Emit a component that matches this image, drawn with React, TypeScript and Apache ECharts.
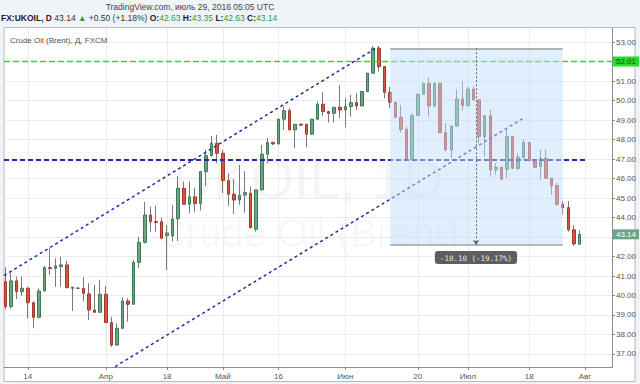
import React, { useEffect, useRef } from "react";
import * as echarts from "echarts";

// trading-day index of the first candle (0 = 14 March 2016)
const firstDay = -4;
const opens = [
  40.71, 39.43, 40.75, 40.2, 40.37, 39.63, 38.88, 40.23, 41.43, 41.4, 41.48, 41.57, 40.42, 40.37,
  40.37, 40.08, 39.26, 39.14, 40.06, 38.61, 37.46, 38.32, 39.72, 39.55, 41.7, 42.73, 44.13, 43.79,
  43.79, 43.07, 43.06, 43.93, 45.5, 44.68, 45.06, 44.72, 46.36, 47.18, 47.81, 47.3, 45.9, 45.2,
  44.9, 45.16, 45.25, 43.4, 45.42, 47.25, 47.86, 47.78, 49.05, 49.49, 48.5, 48.79, 48.79, 48.28,
  49.05, 49.82, 49.44, 49.35, 49.66, 49.52, 49.7, 49.9, 49.73, 50.47, 51.41, 52.69, 51.75, 50.43,
  49.92, 49.15, 48.53, 46.96, 49.23, 50.33, 50.89, 49.73, 50.89, 48.36, 47.47, 48.7, 50.09, 49.75,
  50.59, 50.04, 48.16, 49.22, 46.44, 46.58, 46.48, 48.16, 46.53, 47.1, 47.85, 46.92, 46.62, 47.04,
  46.02, 45.64, 44.68, 44.51, 43.37, 42.63,
];
const closes = [
  39.43, 40.75, 40.2, 40.37, 39.63, 38.88, 40.23, 41.43, 41.38, 41.52, 41.57, 40.4, 40.37, 40.38,
  40.11, 39.26, 39.14, 40.06, 38.61, 37.46, 38.32, 39.72, 39.55, 41.7, 42.73, 44.13, 43.79, 43.75,
  42.94, 43.21, 43.93, 45.5, 44.68, 45.06, 44.72, 46.36, 47.18, 47.81, 47.3, 45.9, 45.2, 44.9,
  45.14, 45.28, 43.48, 45.42, 47.25, 47.86, 47.78, 49.05, 49.49, 48.5, 48.79, 48.74, 48.28, 49.05,
  49.82, 49.44, 49.35, 49.66, 49.52, 49.7, 49.9, 49.73, 50.47, 51.41, 52.69, 51.75, 50.43, 49.92,
  49.15, 48.53, 46.96, 49.23, 50.33, 50.89, 49.73, 50.89, 48.36, 47.47, 48.7, 50.09, 49.75, 50.59,
  50.04, 48.16, 49.22, 46.44, 46.58, 45.97, 48.16, 46.53, 47.1, 47.85, 46.92, 46.58, 47.04, 46.02,
  45.64, 44.68, 44.51, 43.37, 42.65, 43.14,
];
const lows = [
  39.29, 39.34, 39.81, 39.98, 38.83, 38.32, 38.83, 40.23, 41.05, 40.45, 40.45, 40.4, 39.21, 40.33,
  39.69, 38.74, 39.12, 39.14, 38.61, 37.37, 37.41, 38.27, 38.66, 39.55, 41.4, 42.68, 43.28, 43.28,
  42.94, 41.31, 42.77, 42.8, 44.68, 44.22, 44.26, 44.36, 45.62, 47.13, 46.79, 45.25, 44.6, 44.19,
  44.65, 44.25, 43.45, 43.28, 45.42, 46.79, 47.72, 47.76, 48.5, 48.5, 47.56, 48.7, 47.61, 48.24,
  49.01, 49.22, 48.87, 48.87, 49.1, 48.63, 49.18, 49.52, 49.7, 50.47, 51.41, 51.49, 50.12, 49.61,
  49.15, 48.36, 46.96, 46.96, 49.23, 50.3, 49.18, 49.7, 48.36, 47.4, 47.04, 48.67, 49.49, 49.7,
  50.04, 47.81, 47.13, 46.1, 46.19, 45.93, 46.02, 46.53, 46.44, 46.99, 46.92, 46.58, 45.93, 46.02,
  45.16, 44.61, 44.14, 43.28, 42.54, 42.63,
];
const highs = [
  41.45, 41.14, 40.97, 40.97, 40.45, 39.69, 40.37, 41.52, 42.42, 41.91, 41.99, 41.77, 40.45, 40.42,
  40.93, 40.63, 40.54, 40.8, 40.49, 38.91, 38.57, 39.91, 39.86, 41.82, 43.02, 44.8, 44.56, 44.6,
  44.01, 43.62, 44.65, 46.14, 45.85, 45.85, 45.54, 46.36, 47.47, 48.19, 48.24, 47.47, 46.27, 45.97,
  46.7, 46.38, 45.6, 45.42, 47.73, 48.1, 47.9, 49.05, 49.7, 49.61, 48.79, 48.82, 48.79, 49.05,
  49.95, 50.43, 49.49, 49.66, 50.81, 50.12, 50.3, 50.38, 50.47, 51.41, 52.8, 52.8, 51.75, 50.72,
  49.92, 49.78, 48.67, 49.35, 50.33, 50.93, 51.2, 50.93, 50.93, 48.84, 48.7, 50.59, 50.98, 50.72,
  50.72, 50.07, 49.27, 49.53, 46.79, 46.62, 48.58, 48.16, 47.3, 48.02, 47.85, 46.92, 47.47, 47.5,
  46.02, 45.76, 44.85, 44.85, 43.62, 43.35,
];

const tickDays = [0, 14, 25, 35, 45, 57, 70, 79, 90, 100];
const tickLabels = ["14", "Апр", "18", "Май", "16", "Июн", "20", "Июл", "18", "Авг"];
const priceTicks = [37, 38, 39, 40, 41, 42, 43, 44, 45, 46, 47, 48, 49, 50, 51, 52, 53];
// 43.00 and 52.00 are covered by the price badges in the reference
const priceLabels = [37, 38, 39, 40, 41, 42, 44, 45, 46, 47, 48, 49, 50, 51, 53];

// user drawings (trading-day index, price)
const upperChannel = [[-4.27, 41.02], [62.85, 52.76]];
const lowerChannel = [[12, 35.71], [89.05, 49.12]];
const supportLevel = 46.97;
const supportSpan = [-4.27, 100.5];
const resistanceLevel = 52.01;
const measureFrom = 65.05;
const measureTo = 96.0;
const measureMid = 80.44;
const measureTop = 52.69;
const measureBottom = 42.59;
const measureText = "-10.10 (-19.17%)";
const lastPrice = 43.14;

const xMin = -4.27;
const xMax = 104.85;
const yMin = 36.33;
const yMax = 53.73;

const FONT = "'Liberation Sans', Arial, sans-serif";

export default function App() {
  const ref = useRef<HTMLDivElement>(null);
  useEffect(() => {
    if (!ref.current) return;
    const chart = echarts.init(ref.current, undefined, { renderer: "svg" });
    const candles = opens.map((o, i) => [firstDay + i, o, closes[i], lows[i], highs[i]]);
    const bodies = opens.map((o, i) => [
      firstDay + i,
      o,
      closes[i],
      Math.min(o, closes[i]),
      Math.max(o, closes[i]),
    ]);
    const wick = "#77797d";
    const option: any = {
      animation: false,
      backgroundColor: "#f0f3f8",
      textStyle: { fontFamily: FONT },
      grid: { left: 4, right: 28, top: 28, bottom: 17, containLabel: false },
      xAxis: {
        type: "value",
        min: xMin,
        max: xMax,
        axisLine: { show: true, onZero: false, lineStyle: { color: "#8c8c8c" } },
        axisTick: { show: true, customValues: tickDays, length: 3, lineStyle: { color: "#8c8c8c" } },
        axisLabel: {
          customValues: tickDays,
          formatter: (v: number) => {
            const k = tickDays.indexOf(Math.round(v));
            return k >= 0 ? tickLabels[k] : "";
          },
          fontSize: 8,
          color: "#555",
          margin: 5,
          fontFamily: FONT,
        },
        splitLine: { show: true, lineStyle: { color: "#ebebeb", width: 1 } },
      },
      yAxis: {
        type: "value",
        position: "right",
        min: yMin,
        max: yMax,
        axisLine: { show: true, onZero: false, lineStyle: { color: "#8c8c8c" } },
        axisTick: { show: true, customValues: priceTicks, length: 3, lineStyle: { color: "#8c8c8c" } },
        axisLabel: {
          customValues: priceLabels,
          formatter: (v: number) => v.toFixed(2),
          fontSize: 8,
          color: "#555",
          margin: 4,
          fontFamily: FONT,
        },
        splitLine: { show: true, lineStyle: { color: "#ebebeb" } },
      },
      graphic: [
        {
          type: "rect",
          z: -10,
          shape: { x: 4, y: 27.5, width: 631, height: 354 },
          style: { fill: "#ffffff", stroke: "#b9b9b9", lineWidth: 1 },
        },
        {
          type: "text",
          z: -9,
          x: 308,
          y: 178,
          style: {
            text: "UKOIL, 1D",
            fill: "rgba(0,0,0,0.04)",
            fontSize: 56,
            fontFamily: FONT,
            align: "center",
            verticalAlign: "middle",
          },
        },
        {
          type: "text",
          z: -9,
          x: 308,
          y: 233,
          style: {
            text: "Crude Oil (Brent)",
            fill: "rgba(0,0,0,0.04)",
            fontSize: 40,
            fontFamily: FONT,
            align: "center",
            verticalAlign: "middle",
          },
        },
        {
          type: "text",
          z: 20,
          x: 190,
          y: 7,
          style: {
            text: "TradingView.com, июль 29, 2016 05:05 UTC",
            fill: "#444",
            fontSize: 8.5,
            fontFamily: FONT,
            align: "center",
            verticalAlign: "middle",
          },
        },
        {
          type: "text",
          z: 20,
          x: 1,
          y: 18,
          style: {
            text:
              "{b|FX:UKOIL, D} {n|43.14} {g|▲} {n|+0.50 (+1.18%)} {b|O:}{g|42.63} {b|H:}{g|43.35} {b|L:}{g|42.63} {b|C:}{g|43.14}",
            fontSize: 8.5,
            fontFamily: FONT,
            verticalAlign: "middle",
            rich: {
              b: { fill: "#222", fontWeight: "bold", fontSize: 8.5, fontFamily: FONT },
              n: { fill: "#333", fontSize: 8.5, fontFamily: FONT },
              g: { fill: "#2e9e3e", fontSize: 8.5, fontFamily: FONT },
            },
          },
        },
        {
          type: "text",
          z: 20,
          x: 10,
          y: 40,
          style: {
            text: "Crude Oil (Brent), Д, FXCM",
            fill: "#555",
            fontSize: 8,
            fontFamily: FONT,
            verticalAlign: "middle",
          },
        },
      ],
      series: [
        {
          type: "candlestick",
          name: "wicks",
          data: candles,
          encode: { x: 0, y: [1, 2, 3, 4] },
          barWidth: 0.3,
          silent: true,
          z: 2,
          itemStyle: {
            color: wick,
            color0: wick,
            borderColor: wick,
            borderColor0: wick,
            borderWidth: 1,
          },
        },
        {
          type: "candlestick",
          name: "UKOIL",
          data: bodies,
          encode: { x: 0, y: [1, 2, 3, 4] },
          barWidth: 3,
          silent: true,
          z: 3,
          itemStyle: {
            color: "#6ba583",
            color0: "#d75442",
            borderColor: "#3f7a57",
            borderColor0: "#a33b2c",
            borderWidth: 1,
          },
          markLine: {
            silent: true,
            z: 5,
            symbol: ["none", "none"],
            animation: false,
            data: [
              [
                {
                  coord: [supportSpan[0], supportLevel],
                  lineStyle: { color: "#2626a6", width: 2, type: [5, 3] },
                  label: { show: false },
                },
                { coord: [supportSpan[1], supportLevel] },
              ],
              {
                yAxis: resistanceLevel,
                lineStyle: { color: "#3ad23a", width: 1.3, type: [6, 3] },
                label: {
                  show: true,
                  position: "end",
                  distance: 1,
                  formatter: resistanceLevel.toFixed(2),
                  backgroundColor: "#22e022",
                  color: "#333",
                  fontSize: 8,
                  fontFamily: FONT,
                  padding: [1, 3, 1, 3],
                },
              },
              {
                yAxis: lastPrice,
                lineStyle: { color: "rgba(0,0,0,0)", width: 0 },
                label: {
                  show: true,
                  position: "end",
                  distance: 1,
                  formatter: lastPrice.toFixed(2),
                  backgroundColor: "#6ba583",
                  color: "#ffffff",
                  fontSize: 8,
                  fontFamily: FONT,
                  padding: [1, 3, 1, 3],
                },
              },
            ],
          },
        },
        {
          type: "line",
          name: "upper channel",
          data: upperChannel,
          symbol: "none",
          silent: true,
          z: 4,
          lineStyle: { color: "#2a2aa2", width: 1.5, type: [3, 3] },
        },
        {
          type: "line",
          name: "lower channel",
          data: lowerChannel,
          symbol: "none",
          silent: true,
          z: 4,
          lineStyle: { color: "#2a2aa2", width: 1.5, type: [3, 3] },
          markArea: {
            silent: true,
            z: 10,
            itemStyle: { color: "rgba(196,221,251,0.5)", opacity: 1 },
            label: { show: false },
            data: [[{ coord: [measureFrom, measureTop] }, { coord: [measureTo, measureBottom] }]],
          },
          markLine: {
            silent: true,
            z: 11,
            symbol: ["none", "none"],
            label: { show: false },
            data: [
              [
                { coord: [measureFrom, measureTop], lineStyle: { color: "#a0a0a0", width: 1.5, type: "solid" } },
                { coord: [measureTo, measureTop] },
              ],
              [
                { coord: [measureFrom, measureBottom], lineStyle: { color: "#a0a0a0", width: 1.5, type: "solid" } },
                { coord: [measureTo, measureBottom] },
              ],
              [
                { coord: [measureMid, measureTop], lineStyle: { color: "#666", width: 1, type: [2, 2] } },
                { coord: [measureMid, measureBottom], symbol: "arrow", symbolSize: 5 },
              ],
            ],
          },
          markPoint: {
            silent: true,
            z: 12,
            data: [
              {
                coord: [measureMid, measureBottom],
                symbol: "circle",
                symbolSize: 0,
                label: {
                  show: true,
                  position: "bottom",
                  distance: 6,
                  formatter: measureText,
                  backgroundColor: "rgba(80,80,80,0.92)",
                  color: "#e8e8e8",
                  fontFamily: "'DejaVu Sans Mono', monospace",
                  fontSize: 7.5,
                  padding: [3, 5, 2, 5],
                  borderRadius: 3,
                },
              },
            ],
          },
        },
      ],
    };
    chart.setOption(option);
    return () => chart.dispose();
  }, []);
  return (
    <div
      ref={ref}
      style={{ position: "fixed", left: 0, top: 0, width: 640, height: 384 }}
    />
  );
}
